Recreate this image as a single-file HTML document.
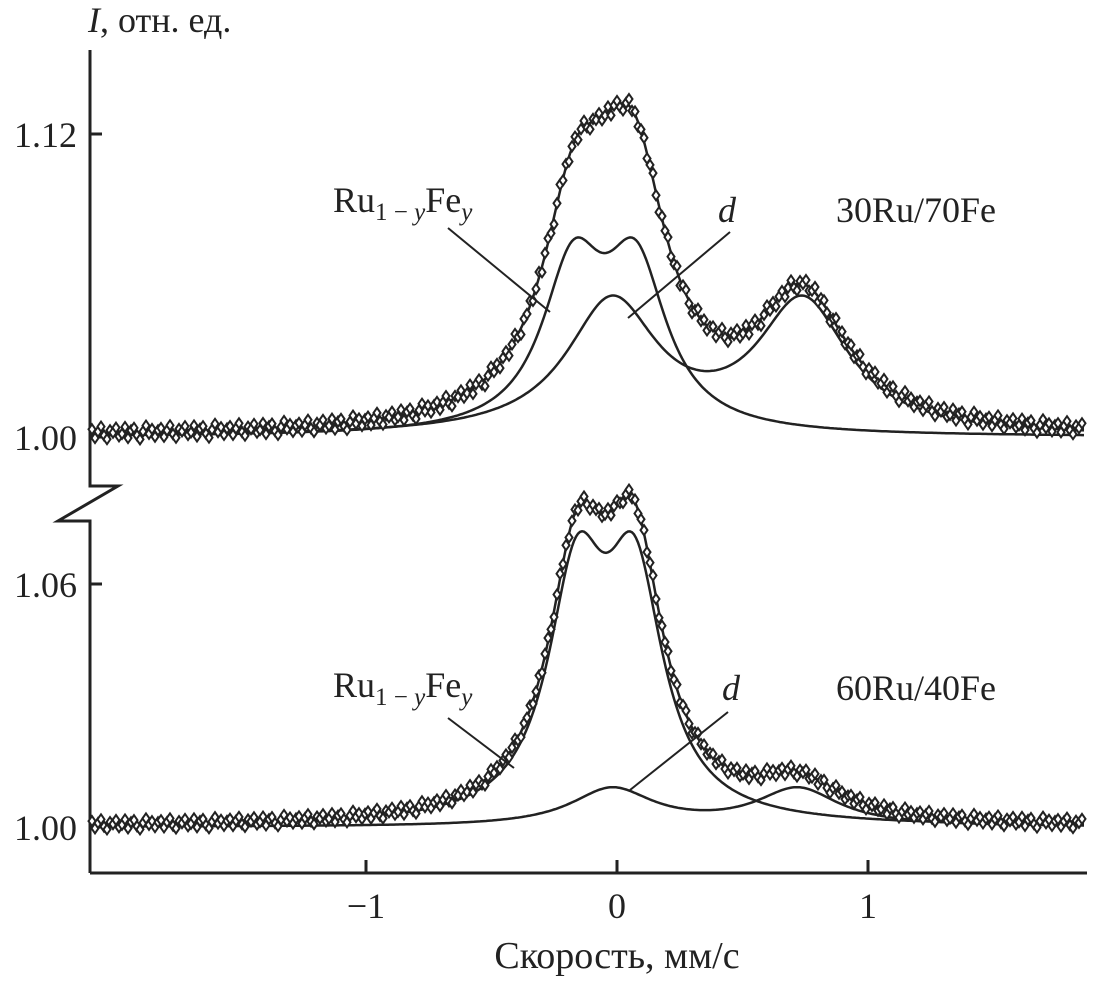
<!DOCTYPE html>
<html><head><meta charset="utf-8"><style>
body{margin:0;background:#fff}
svg{display:block;font-family:"Liberation Serif",serif}
</style></head><body>
<svg id="chart" width="1102" height="984" viewBox="0 0 1102 984" xmlns="http://www.w3.org/2000/svg">
<g stroke="#222" stroke-width="3" fill="none">
<path d="M90 50 L90 486 L118 486 L58 521 L90 521 L90 873"/>
<path d="M90 873 L1087 873"/>
</g>
<g id="ticks"></g>
<g id="curves"></g>
<g id="points"></g>
<g font-size="36" fill="#222">
<text x="88" y="32"><tspan font-style="italic">I</tspan>, отн. ед.</text>
<text x="617" y="968" text-anchor="middle" font-size="38">Скорость, мм/с</text>
<text x="333" y="212">Ru<tspan font-size="25" dy="8">1 − <tspan font-style="italic">y</tspan></tspan><tspan dy="-8">Fe</tspan><tspan font-size="25" dy="8" font-style="italic">y</tspan></text>
<text x="718" y="222" font-style="italic">d</text>
<text x="836" y="222">30Ru/70Fe</text>
<text x="333" y="697">Ru<tspan font-size="25" dy="8">1 − <tspan font-style="italic">y</tspan></tspan><tspan dy="-8">Fe</tspan><tspan font-size="25" dy="8" font-style="italic">y</tspan></text>
<text x="722" y="700" font-style="italic">d</text>
<text x="836" y="700">60Ru/40Fe</text>
<g stroke="#222" stroke-width="2">
<line x1="448" y1="228" x2="550" y2="312"/>
<line x1="730" y1="232" x2="628" y2="318"/>
<line x1="448" y1="718" x2="514" y2="768"/>
<line x1="728" y1="712" x2="630" y2="790"/>
</g>
</g>
</svg>
<script>
const xTicks=[-1,0,1];
const xTickLabels=["\u22121","0","1"];
const topYTicks=[1.00,1.12];
const topYTickLabels=["1.00","1.12"];
const botYTicks=[1.00,1.06];
const botYTickLabels=["1.00","1.06"];
// Lorentzian components: centers (mm/s), amplitudes, half-widths
const topRuCenters=[-0.175,0.075], topRuAmps=[0.0617,0.0617], topRuWidths=[0.15,0.15];
const topDCenters=[-0.02,0.74], topDAmps=[0.052,0.052], topDWidths=[0.22,0.22];
const botRuCenters=[-0.16,0.07], botRuAmps=[0.0567,0.0567], botRuWidths=[0.14,0.14];
const botDCenters=[-0.02,0.72], botDAmps=[0.0092,0.0092], botDWidths=[0.2,0.2];
// residuals of measured points (x0.001)
const topResiduals=[1.5,-2,0.5,2.5,-1,-2.5,1,0,2,-1.5,-0.5,2.2,-2.2,0.8,1.8,-1.2,-2.8,0.3,2.6,-0.7,1.2,-1.9,0.6];
const botResiduals=[0.8,-1,0.3,1.2,-0.6,-1.3,0.5,0,1,-0.8,-0.2,1.1,-1.1,0.4,0.9,-0.6,-1.4,0.2,1.3,-0.3,0.6,-0.9,0.3];

const X0=617,XS=251;
const sx=v=>X0+v*XS;
const syTop=v=>437-(v-1)*2525;
const syBot=v=>827-(v-1)*4050;
const NS="http://www.w3.org/2000/svg";
function mk(t,a,p){const e=document.createElementNS(NS,t);for(const k in a)e.setAttribute(k,a[k]);p.appendChild(e);return e;}
function lor(x,C,A,W){let s=0;for(let i=0;i<C.length;i++){const u=(x-C[i])/W[i];s+=A[i]/(1+u*u);}return s;}
const ticks=document.getElementById('ticks');
xTicks.forEach((t,i)=>{
 const l=mk('line',{x1:sx(t),x2:sx(t),y1:873,y2:860,stroke:'#222','stroke-width':3},ticks);
 
 
 const tx=mk('text',{x:sx(t),y:918,'text-anchor':'middle','font-size':36,fill:'#222'},ticks);
 tx.textContent=xTickLabels[i];
 
 
});
function yt(vals,labs,sy){vals.forEach((t,i)=>{
 const l=mk('line',{x1:90,x2:102,y1:sy(t),y2:sy(t),stroke:'#222','stroke-width':3},ticks);
 
 
 const tx=mk('text',{x:77,y:sy(t)+13,'text-anchor':'end','font-size':36,fill:'#222'},ticks);
 tx.textContent=labs[i];
 
 
});}
yt(topYTicks,topYTickLabels,syTop);yt(botYTicks,botYTickLabels,syBot);
const curves=document.getElementById('curves'),pts=document.getElementById('points');
function panel(name,sy,RC,RA,RW,DC,DA,DW,res){
 let pr='',pd='',pt='';
 for(let px=90;px<=1084;px+=2){const x=(px-X0)/XS;
  const r=lor(x,RC,RA,RW),d=lor(x,DC,DA,DW);
  pr+=(pr?'L':'M')+px+' '+sy(1+r).toFixed(1);
  pd+=(pd?'L':'M')+px+' '+sy(1+d).toFixed(1);
  pt+=(pt?'L':'M')+px+' '+sy(1+r+d).toFixed(1);}
 [[pr,'ru-component'],[pd,'d-component'],[pt,'total-fit']].forEach(([p,n])=>{
  const e=mk('path',{d:p,fill:'none',stroke:'#222','stroke-width':2.5},curves);
  
  });
 let k=0;
 for(let px=92;px<=1082;px+=3,k++){const x=(px-X0)/XS;
  const v=1+lor(x,RC,RA,RW)+lor(x,DC,DA,DW)+res[k%res.length]*0.001;
  const y=sy(v);
  const e=mk('path',{d:`M${px} ${y-5}L${px+3.5} ${y}L${px} ${y+5}L${px-3.5} ${y}Z`,fill:'#fff',stroke:'#222','stroke-width':2},pts);
  
  }
}
panel('top',syTop,topRuCenters,topRuAmps,topRuWidths,topDCenters,topDAmps,topDWidths,topResiduals);
panel('bottom',syBot,botRuCenters,botRuAmps,botRuWidths,botDCenters,botDAmps,botDWidths,botResiduals);
</script>
</body></html>
